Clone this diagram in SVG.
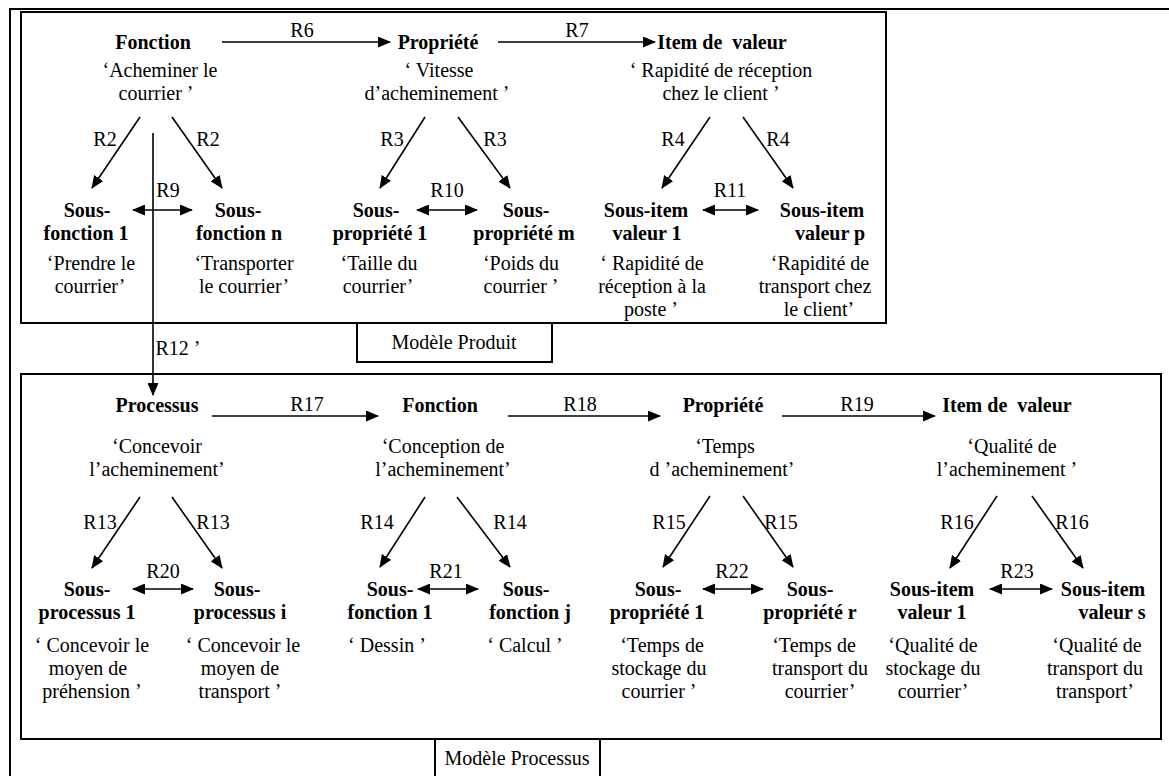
<svg xmlns="http://www.w3.org/2000/svg" width="1169" height="776" viewBox="0 0 1169 776">
<style>
text{font-family:"Liberation Serif","Times New Roman",serif;font-size:20px;fill:#000;text-anchor:middle;white-space:pre}
.b{font-weight:bold}
.frame{fill:none;stroke:#000;stroke-width:2}
.c{stroke:#000;stroke-width:1.6;fill:none;marker-end:url(#ah)}
.d{stroke:#000;stroke-width:1.6;fill:none;marker-end:url(#ah);marker-start:url(#ah)}
</style>
<defs>
<marker id="ah" markerUnits="userSpaceOnUse" markerWidth="13" markerHeight="11" refX="12" refY="5.5" orient="auto-start-reverse"><path d="M0,0 L13,5.5 L0,11 z" fill="#000"/></marker>
</defs>
<rect width="1169" height="776" fill="#fff"/>
<g id="frames">
<path class="frame" d="M10,776 V9 H1169"/>
<rect class="frame" x="21" y="12" width="865" height="311"/>
<rect class="frame" x="357" y="323" width="195" height="39"/>
<rect class="frame" x="21" y="374" width="1140" height="365"/>
<path class="frame" d="M435,776 V739 H600 V776"/>
</g>
<g id="labels">
<text x="454" y="349">Modèle Produit</text>
<text x="517" y="765">Modèle Processus</text>
</g>
<g id="connectors">
<path class="c" d="M222,42 H390"/>
<path class="c" d="M498,42 H655"/>
<path class="c" d="M140,117 L92,188"/>
<path class="c" d="M172,117 L222,188"/>
<path class="c" d="M425,117 L380,188"/>
<path class="c" d="M458,117 L510,188"/>
<path class="c" d="M710,117 L662,188"/>
<path class="c" d="M743,117 L793,188"/>
<path class="d" d="M133,210 H192"/>
<path class="d" d="M417,210 H477"/>
<path class="d" d="M703,210 H758"/>
<path class="c" d="M153,133 V395"/>
<path class="c" d="M212,416 H378"/>
<path class="c" d="M508,416 H660"/>
<path class="c" d="M782,416 H935"/>
<path class="c" d="M140,497 L92,568"/>
<path class="c" d="M172,497 L222,568"/>
<path class="c" d="M425,497 L380,567"/>
<path class="c" d="M457,497 L510,567"/>
<path class="c" d="M710,496 L663,567"/>
<path class="c" d="M743,496 L793,567"/>
<path class="c" d="M997,496 L950,568"/>
<path class="c" d="M1032,496 L1083,568"/>
<path class="d" d="M133,589 H193"/>
<path class="d" d="M418,589 H478"/>
<path class="d" d="M703,589 H763"/>
<path class="d" d="M990,589 H1052"/>
<text x="302" y="37">R6</text>
<text x="577" y="37">R7</text>
<text x="105" y="146">R2</text>
<text x="208" y="146">R2</text>
<text x="392" y="146">R3</text>
<text x="495" y="146">R3</text>
<text x="673" y="146">R4</text>
<text x="778" y="146">R4</text>
<text x="168" y="197">R9</text>
<text x="447" y="197">R10</text>
<text x="730" y="197">R11</text>
<text x="178" y="355">R12 ’</text>
<text x="307" y="411">R17</text>
<text x="580" y="411">R18</text>
<text x="857" y="411">R19</text>
<text x="100" y="529">R13</text>
<text x="213" y="529">R13</text>
<text x="377" y="529">R14</text>
<text x="510" y="529">R14</text>
<text x="669" y="529">R15</text>
<text x="781" y="529">R15</text>
<text x="957" y="529">R16</text>
<text x="1072" y="529">R16</text>
<text x="163" y="578">R20</text>
<text x="446" y="578">R21</text>
<text x="732" y="578">R22</text>
<text x="1017" y="578">R23</text>
</g>
<g id="p-fonction"><text class="b" x="153" y="49">Fonction</text><text x="160" y="77">‘Acheminer le</text><text x="156" y="100">courrier ’</text></g>
<g id="p-propriete"><text class="b" x="438" y="49">Propriété</text><text x="439" y="77">‘ Vitesse</text><text x="437" y="100">d’acheminement ’</text></g>
<g id="p-item"><text class="b" x="722" y="49">Item de  valeur</text><text x="721" y="77">‘ Rapidité de réception</text><text x="721" y="100">chez le client ’</text></g>
<g id="p-sf1"><text class="b" x="87" y="217">Sous-</text><text class="b" x="86" y="240">fonction 1</text><text x="91" y="270">‘Prendre le</text><text x="90" y="293">courrier’</text></g>
<g id="p-sfn"><text class="b" x="238" y="217">Sous-</text><text class="b" x="239" y="240">fonction n</text><text x="244" y="270">‘Transporter</text><text x="244" y="293">le courrier’</text></g>
<g id="p-sp1"><text class="b" x="376" y="217">Sous-</text><text class="b" x="380" y="240">propriété 1</text><text x="379" y="270">‘Taille du</text><text x="378" y="293">courrier’</text></g>
<g id="p-spm"><text class="b" x="526" y="217">Sous-</text><text class="b" x="524" y="240">propriété m</text><text x="521" y="270">‘Poids du</text><text x="521" y="293">courrier ’</text></g>
<g id="p-si1"><text class="b" x="646" y="217">Sous-item</text><text class="b" x="647" y="240">valeur 1</text><text x="652" y="270">‘ Rapidité de</text><text x="652" y="293">réception à la</text><text x="651" y="316">poste ’</text></g>
<g id="p-sip"><text class="b" x="822" y="217">Sous-item</text><text class="b" x="830" y="240">valeur p</text><text x="820" y="270">‘Rapidité de</text><text x="815" y="293">transport chez</text><text x="819" y="316">le client’</text></g>
<g id="q-processus"><text class="b" x="157" y="412">Processus</text><text x="157" y="453">‘Concevoir</text><text x="157" y="476">l’acheminement’</text></g>
<g id="q-fonction"><text class="b" x="440" y="412">Fonction</text><text x="443" y="453">‘Conception de</text><text x="443" y="476">l’acheminement’</text></g>
<g id="q-propriete"><text class="b" x="723" y="412">Propriété</text><text x="725" y="453">‘Temps</text><text x="722" y="476">d ’acheminement’</text></g>
<g id="q-item"><text class="b" x="1007" y="412">Item de  valeur</text><text x="1012" y="453">‘Qualité de</text><text x="1007" y="476">l’acheminement ’</text></g>
<g id="q-sp1"><text class="b" x="87" y="596">Sous-</text><text class="b" x="87" y="619">processus 1</text><text x="92" y="652">‘ Concevoir le</text><text x="88" y="675">moyen de</text><text x="92" y="698">préhension ’</text></g>
<g id="q-spi"><text class="b" x="237" y="596">Sous-</text><text class="b" x="240" y="619">processus i</text><text x="243" y="652">‘ Concevoir le</text><text x="240" y="675">moyen de</text><text x="240" y="698">transport ’</text></g>
<g id="q-sf1"><text class="b" x="390" y="596">Sous-</text><text class="b" x="390" y="619">fonction 1</text><text x="387" y="652">‘ Dessin ’</text></g>
<g id="q-sfj"><text class="b" x="526" y="596">Sous-</text><text class="b" x="530" y="619">fonction j</text><text x="525" y="652">‘ Calcul ’</text></g>
<g id="q-sp1b"><text class="b" x="658" y="596">Sous-</text><text class="b" x="657" y="619">propriété 1</text><text x="662" y="652">‘Temps de</text><text x="659" y="675">stockage du</text><text x="659" y="698">courrier ’</text></g>
<g id="q-spr"><text class="b" x="810" y="596">Sous-</text><text class="b" x="810" y="619">propriété r</text><text x="814" y="652">‘Temps de</text><text x="820" y="675">transport du</text><text x="820" y="698">courrier’</text></g>
<g id="q-si1"><text class="b" x="932" y="596">Sous-item</text><text class="b" x="932" y="619">valeur 1</text><text x="933" y="652">‘Qualité de</text><text x="933" y="675">stockage du</text><text x="933" y="698">courrier’</text></g>
<g id="q-sis"><text class="b" x="1103" y="596">Sous-item</text><text class="b" x="1112" y="619">valeur s</text><text x="1097" y="652">‘Qualité de</text><text x="1095" y="675">transport du</text><text x="1095" y="698">transport’</text></g>
</svg>
